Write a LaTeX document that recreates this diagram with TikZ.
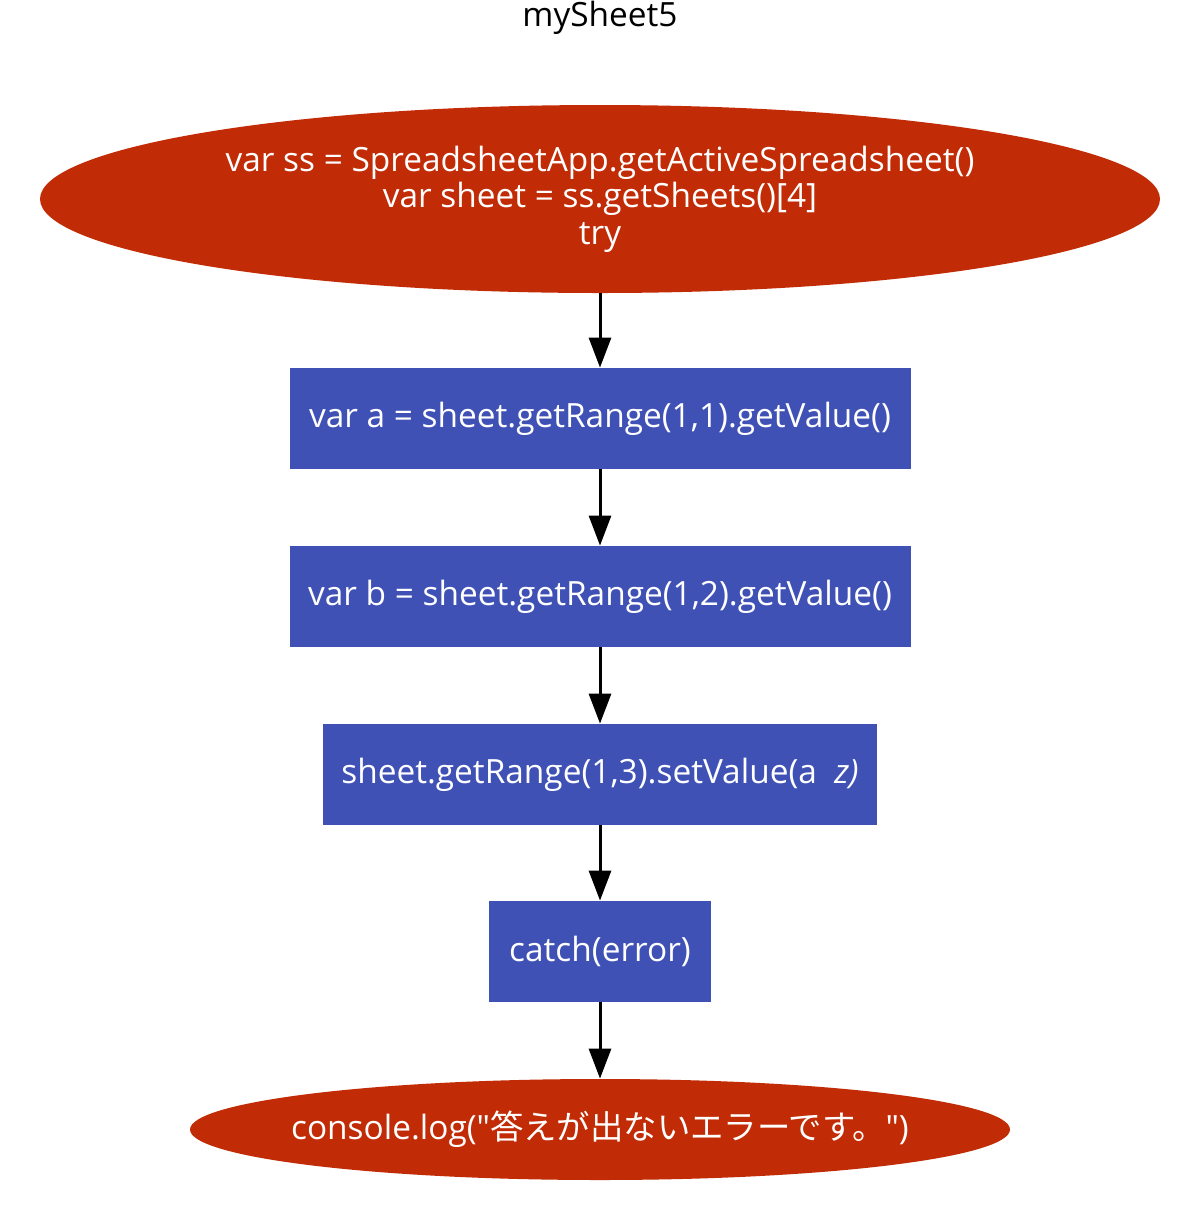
\documentclass[tikz,border=0pt]{standalone}
\usepackage{fontspec}
\setmainfont{Open Sans}
\newfontfamily\cjk{Noto Sans CJK JP}
\usetikzlibrary{shapes.geometric, arrows.meta}
\definecolor{termred}{RGB}{193,43,5}
\definecolor{stepblue}{RGB}{63,81,181}

\begin{document}
\begin{tikzpicture}[x={(0.5pt,0pt)}, y={(0pt,-0.5pt)},
    font=\fontsize{16.7}{18.25}\selectfont,
    term/.style={ellipse, fill=termred, text=white, inner sep=0pt, align=center},
    stepbox/.style={rectangle, fill=stepblue, text=white, inner sep=0pt, minimum height=50.5pt},
    flow/.style={-{Triangle[length=15pt, width=11pt]}, line width=1.5pt, black}]
  \useasboundingbox (0,0) rectangle (1200,1212);
  % Title
  \node (title) at (600,18) {mySheet5};
  % Nodes
  \node[term, minimum width=560pt, minimum height=94pt] (start) at (600,199)
    {var ss = SpreadsheetApp.getActiveSpreadsheet()\\var sheet = ss.getSheets()[4]\\try};
  \node[stepbox, minimum width=310.5pt] (geta) at (600,418.5) {var a = sheet.getRange(1,1).getValue()};
  \node[stepbox, minimum width=310.5pt] (getb) at (600,596.5) {var b = sheet.getRange(1,2).getValue()};
  \node[stepbox, minimum width=277pt] (setc) at (600,774.5) {sheet.getRange(1,3).setValue(a\ \ \textit{z)}};
  \node[stepbox, minimum width=111pt] (catch) at (600,951.5) {catch(error)};
  \node[term, inner xsep=-12pt, minimum width=410pt, minimum height=50.5pt] (log) at (600,1129.5)
    {console.log(\textquotedbl{\cjk 答えが出ないエラーです。}\textquotedbl)};
  % Connectors
  \draw[flow] (start) -- (geta);
  \draw[flow] (geta) -- (getb);
  \draw[flow] (getb) -- (setc);
  \draw[flow] (setc) -- (catch);
  \draw[flow] (catch) -- (log);
\end{tikzpicture}
\end{document}
